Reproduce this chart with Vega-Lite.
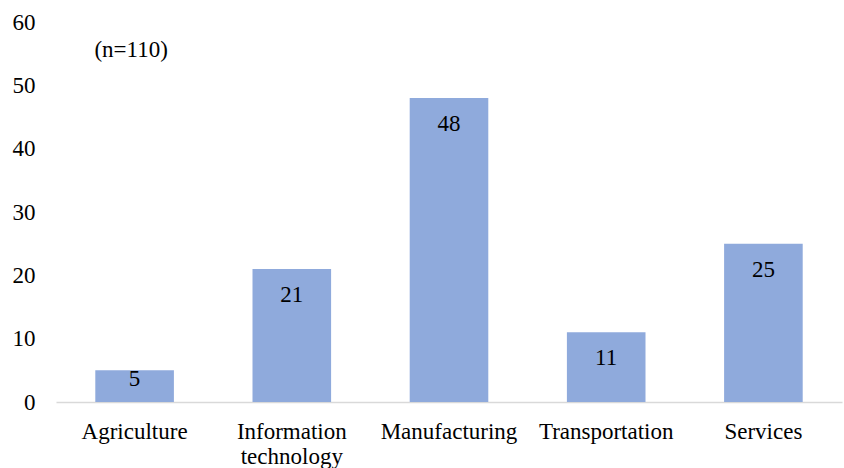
{
  "$schema": "https://vega.github.io/schema/vega-lite/v6.json",
  "width": 786,
  "height": 380,
  "autosize": {"type": "none"},
  "padding": {"left": 56, "top": 22, "right": 2, "bottom": 66},
  "background": "white",
  "config": {
    "view": {"stroke": null}
  },
  "datasets": {
    "sectors": [
      {"sector": "Agriculture", "count": 5},
      {"sector": "Information technology", "count": 21},
      {"sector": "Manufacturing", "count": 48},
      {"sector": "Transportation", "count": 11},
      {"sector": "Services", "count": 25}
    ],
    "note": [{"sector": "Agriculture", "label": "(n=110)", "level": 55.6}]
  },
  "layer": [
    {
      "data": {"name": "sectors"},
      "mark": {"type": "bar", "color": "#8faadc"},
      "encoding": {
        "x": {
          "field": "sector",
          "type": "nominal",
          "sort": null,
          "scale": {"paddingInner": 0.5, "paddingOuter": 0.25},
          "axis": {
            "title": null,
            "labelAngle": 0,
            "labelFont": "'Liberation Serif'",
            "labelFontSize": 23,
            "labelColor": "#000000",
            "labelPadding": 18,
            "labelLineHeight": 25,
            "labelBaseline": "top",
            "labelExpr": "split(datum.label, ' ')",
            "ticks": false,
            "domainColor": "#d9d9d9",
            "domainWidth": 1.5,
            "labelOverlap": false
          }
        },
        "y": {
          "field": "count",
          "type": "quantitative",
          "scale": {"domain": [0, 60]},
          "axis": {
            "title": null,
            "values": [0, 10, 20, 30, 40, 50, 60],
            "grid": false,
            "domain": false,
            "ticks": false,
            "labelFont": "'Times New Roman', serif",
            "labelFontSize": 23,
            "labelColor": "#000000",
            "labelPadding": 21
          }
        }
      }
    },
    {
      "data": {"name": "sectors"},
      "transform": [{"filter": "datum.count >= 8"}],
      "mark": {"type": "text", "font": "'Liberation Serif'", "fontSize": 23, "color": "#000000", "baseline": "middle", "dy": 26},
      "encoding": {
        "x": {"field": "sector", "type": "nominal", "sort": null},
        "y": {"field": "count", "type": "quantitative"},
        "text": {"field": "count", "type": "quantitative"}
      }
    },
    {
      "data": {"name": "sectors"},
      "transform": [{"filter": "datum.count < 8"}],
      "mark": {"type": "text", "font": "'Liberation Serif'", "fontSize": 23, "color": "#000000", "baseline": "middle", "dy": 9},
      "encoding": {
        "x": {"field": "sector", "type": "nominal", "sort": null},
        "y": {"field": "count", "type": "quantitative"},
        "text": {"field": "count", "type": "quantitative"}
      }
    },
    {
      "data": {"name": "note"},
      "mark": {"type": "text", "font": "'Liberation Serif'", "fontSize": 23, "color": "#000000", "baseline": "middle", "dx": -3.5},
      "encoding": {
        "x": {"field": "sector", "type": "nominal", "sort": null},
        "y": {"field": "level", "type": "quantitative"},
        "text": {"field": "label", "type": "nominal"}
      }
    }
  ]
}
